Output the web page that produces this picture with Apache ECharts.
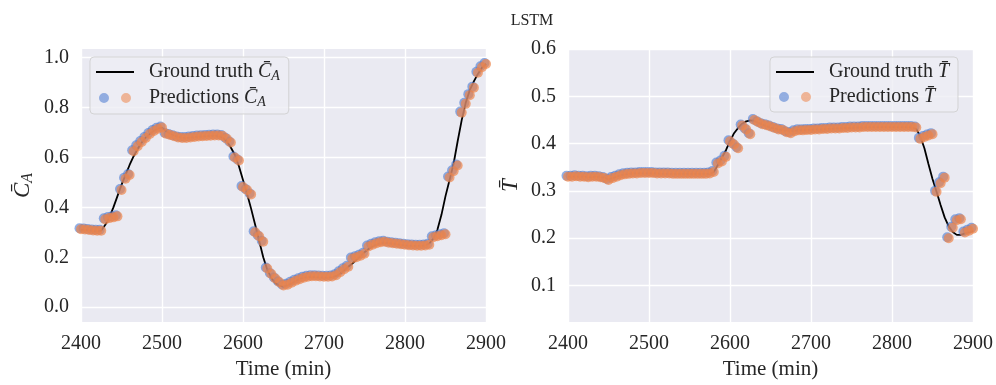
<!DOCTYPE html>
<html>
<head>
<meta charset="utf-8">
<script src="https://cdn.jsdelivr.net/npm/echarts@6/dist/echarts.min.js"></script>
<style>
  html, body { margin: 0; padding: 0; background: #fff; }
  #chart { width: 996px; height: 385px; }
</style>
</head>
<body>
<div id="chart"></div>
<script>
// time (min)
var times = [2400, 2405, 2410, 2415, 2420, 2425, 2430, 2435, 2440, 2445,
  2450, 2455, 2460, 2465, 2470, 2475, 2480, 2485, 2490, 2495,
  2500, 2505, 2510, 2515, 2520, 2525, 2530, 2535, 2540, 2545,
  2550, 2555, 2560, 2565, 2570, 2575, 2580, 2585, 2590, 2595,
  2600, 2605, 2610, 2615, 2620, 2625, 2630, 2635, 2640, 2645,
  2650, 2655, 2660, 2665, 2670, 2675, 2680, 2685, 2690, 2695,
  2700, 2705, 2710, 2715, 2720, 2725, 2730, 2735, 2740, 2745,
  2750, 2755, 2760, 2765, 2770, 2775, 2780, 2785, 2790, 2795,
  2800, 2805, 2810, 2815, 2820, 2825, 2830, 2835, 2840, 2845,
  2850, 2855, 2860, 2865, 2870, 2875, 2880, 2885, 2890, 2895, 2900];

// C_A ground truth / predictions
var caTrue = [0.310, 0.310, 0.308, 0.306, 0.305, 0.307, 0.330, 0.360, 0.400, 0.445,
  0.490, 0.530, 0.570, 0.605, 0.635, 0.660, 0.680, 0.695, 0.707, 0.716,
  0.720, 0.705, 0.695, 0.688, 0.683, 0.680, 0.679, 0.680, 0.682, 0.684,
  0.685, 0.686, 0.687, 0.688, 0.686, 0.680, 0.665, 0.640, 0.610, 0.565,
  0.510, 0.455, 0.395, 0.330, 0.265, 0.200, 0.150, 0.117, 0.097, 0.086,
  0.082, 0.088, 0.095, 0.105, 0.113, 0.118, 0.120, 0.121, 0.120, 0.119,
  0.118, 0.118, 0.120, 0.125, 0.135, 0.148, 0.162, 0.175, 0.190, 0.205,
  0.220, 0.233, 0.244, 0.252, 0.257, 0.258, 0.257, 0.255, 0.253, 0.250,
  0.248, 0.247, 0.246, 0.246, 0.246, 0.248, 0.255, 0.275, 0.310, 0.370,
  0.445, 0.510, 0.575, 0.665, 0.750, 0.820, 0.870, 0.905, 0.935, 0.960, 0.975];
var caPred = [0.312, 0.311, 0.309, 0.307, 0.306, 0.306, 0.352, 0.357, 0.360, 0.364,
  0.470, 0.515, 0.530, 0.625, 0.645, 0.662, 0.678, 0.694, 0.706, 0.715,
  0.720, 0.695, 0.690, 0.685, 0.680, 0.678, 0.678, 0.680, 0.682, 0.684,
  0.685, 0.686, 0.687, 0.688, 0.688, 0.686, 0.675, 0.660, 0.600, 0.588,
  0.482, 0.470, 0.452, 0.300, 0.284, 0.262, 0.155, 0.133, 0.115, 0.100,
  0.087, 0.090, 0.098, 0.106, 0.112, 0.118, 0.122, 0.124, 0.124, 0.123,
  0.122, 0.122, 0.123, 0.128, 0.140, 0.152, 0.162, 0.195, 0.200, 0.206,
  0.214, 0.243, 0.250, 0.256, 0.260, 0.262, 0.258, 0.256, 0.254, 0.252,
  0.250, 0.248, 0.247, 0.246, 0.246, 0.247, 0.250, 0.280, 0.284, 0.288,
  0.292, 0.520, 0.545, 0.568, 0.780, 0.815, 0.850, 0.880, 0.940, 0.962, 0.975];

// T ground truth / predictions
var tTrue = [0.330, 0.330, 0.330, 0.330, 0.330, 0.329, 0.329, 0.330, 0.329, 0.328,
  0.325, 0.327, 0.330, 0.333, 0.335, 0.336, 0.337, 0.337, 0.337, 0.337,
  0.337, 0.337, 0.337, 0.336, 0.336, 0.336, 0.336, 0.336, 0.336, 0.336,
  0.336, 0.336, 0.336, 0.336, 0.336, 0.336, 0.340, 0.355, 0.370, 0.386,
  0.405, 0.422, 0.433, 0.442, 0.447, 0.449, 0.448, 0.444, 0.440, 0.437,
  0.434, 0.432, 0.430, 0.428, 0.427, 0.427, 0.427, 0.428, 0.428, 0.429,
  0.429, 0.430, 0.430, 0.430, 0.431, 0.431, 0.432, 0.432, 0.433, 0.433,
  0.433, 0.434, 0.434, 0.434, 0.435, 0.435, 0.435, 0.435, 0.435, 0.435,
  0.435, 0.435, 0.435, 0.435, 0.435, 0.434, 0.431, 0.415, 0.390, 0.357,
  0.325, 0.298, 0.270, 0.244, 0.225, 0.213, 0.207, 0.207, 0.210, 0.213, 0.215];
var tPred = [0.330, 0.330, 0.331, 0.330, 0.330, 0.329, 0.330, 0.330, 0.329, 0.327,
  0.323, 0.327, 0.330, 0.333, 0.335, 0.336, 0.337, 0.337, 0.338, 0.338,
  0.338, 0.338, 0.337, 0.337, 0.337, 0.337, 0.336, 0.336, 0.336, 0.336,
  0.336, 0.336, 0.336, 0.336, 0.336, 0.337, 0.340, 0.358, 0.362, 0.372,
  0.405, 0.398, 0.390, 0.438, 0.430, 0.420, 0.450, 0.445, 0.441, 0.439,
  0.436, 0.433, 0.430, 0.429, 0.424, 0.422, 0.426, 0.428, 0.428, 0.429,
  0.429, 0.430, 0.430, 0.431, 0.431, 0.432, 0.432, 0.432, 0.433, 0.433,
  0.434, 0.434, 0.434, 0.435, 0.435, 0.435, 0.435, 0.435, 0.435, 0.435,
  0.435, 0.435, 0.435, 0.435, 0.435, 0.435, 0.434, 0.410, 0.414, 0.417,
  0.420, 0.298, 0.316, 0.328, 0.200, 0.222, 0.238, 0.240, 0.212, 0.216, 0.220];

var caTicks = [0.0, 0.2, 0.4, 0.6, 0.8, 1.0];
var tTicks = [0.1, 0.2, 0.3, 0.4, 0.5, 0.6];

var FONT = 'Liberation Serif';
var INK = '#262626';
var BLUE = '#4878d0', ORANGE = '#ee854a';

var chart = echarts.init(document.getElementById('chart'));

function pairs(ys) {
  return times.map(function (t, i) { return [t, ys[i]]; });
}

// legend icons: a plain black line, and a blue dot next to an orange dot
var plainLine = 'path://M0,0L38,0L38,1.8L0,1.8Z';
var twoDots = 'path://M0,0L0.01,0L0,0.01Z M38,14L37.99,14L38,13.99Z M3,7a5,5 0 1,0 10,0a5,5 0 1,0 -10,0Z M25,7a5,5 0 1,0 10,0a5,5 0 1,0 -10,0Z';
var dotsFill = new echarts.graphic.LinearGradient(0, 0, 1, 0, [
  { offset: 0, color: BLUE }, { offset: 0.5, color: BLUE },
  { offset: 0.5, color: ORANGE }, { offset: 1, color: ORANGE }
]);

var rich = {
  sp: { width: 10 },
  n: { fontFamily: FONT, fontSize: 20, color: INK },
  m: { fontFamily: FONT, fontSize: 20, fontStyle: 'italic', color: INK },
  s: { fontFamily: FONT, fontSize: 14, fontStyle: 'italic', color: INK, padding: [8, 0, 0, 0] },
  big: { fontFamily: FONT, fontSize: 23, fontStyle: 'italic', color: INK },
  bigs: { fontFamily: FONT, fontSize: 16, fontStyle: 'italic', color: INK, padding: [10, 0, 0, 0] }
};

var names = {
  gtC: '{sp| }{n|Ground truth }{m|C\u0304}{s|A}',
  prC: '{sp| }{n|Predictions }{m|C\u0304}{s|A}',
  gtT: '{sp| }{n|Ground truth }{m|T\u0304}',
  prT: '{sp| }{n|Predictions }{m|T\u0304}'
};

function legendFor(names0, pos) {
  return Object.assign({
    top: 57, orient: 'vertical', itemWidth: 38, itemHeight: 14, itemGap: 5,
    padding: [5, 9, 5, 6],
    backgroundColor: 'rgba(238,238,244,0.8)',
    borderColor: 'rgba(204,204,204,0.8)', borderWidth: 1, borderRadius: 4,
    data: [
      { name: names0[0], icon: plainLine, itemStyle: { color: '#000' } },
      { name: names0[1], icon: twoDots, itemStyle: { color: dotsFill, opacity: 0.55 } }
    ],
    formatter: function (n) { return names[n]; },
    textStyle: { rich: rich }
  }, pos);
}

function xAxisFor(gi) {
  return {
    gridIndex: gi, type: 'value', min: 2400, max: 2900, interval: 100,
    name: 'Time (min)', nameLocation: 'middle', nameGap: 36,
    nameTextStyle: { fontFamily: FONT, fontSize: 21, color: INK },
    axisLine: { show: false }, axisTick: { show: false },
    axisLabel: {
      fontFamily: FONT, fontSize: 20, color: INK, margin: 12,
      formatter: function (v) { return String(v); }
    },
    splitLine: { lineStyle: { color: '#fff', width: 1.4 } }
  };
}

function yAxisFor(gi, lo, hi, ticks, label, gap) {
  return {
    gridIndex: gi, type: 'value', min: lo, max: hi,
    name: label, nameLocation: 'middle', nameGap: gap, nameRotate: 90,
    nameTextStyle: { rich: rich },
    axisLine: { show: false },
    axisTick: { show: false, customValues: ticks },
    axisLabel: {
      fontFamily: FONT, fontSize: 20, color: INK, margin: 12, customValues: ticks,
      formatter: function (v) { return v.toFixed(1); }
    },
    splitLine: { customValues: ticks, lineStyle: { color: '#fff', width: 1.4 } }
  };
}

function seriesFor(gi, truth, pred, gtName, prName) {
  return [
    { name: gtName, type: 'line', xAxisIndex: gi, yAxisIndex: gi, data: pairs(truth),
      symbol: 'none', lineStyle: { color: '#000', width: 1.8 }, itemStyle: { color: '#000' }, z: 2 },
    { name: prName + 'b', type: 'scatter', xAxisIndex: gi, yAxisIndex: gi, data: pairs(pred),
      symbolSize: 10, symbolOffset: [-1.5, -1], itemStyle: { color: BLUE, opacity: 0.6 }, z: 3 },
    { name: prName, type: 'scatter', xAxisIndex: gi, yAxisIndex: gi, data: pairs(pred),
      symbolSize: 10, itemStyle: { color: ORANGE, opacity: 0.7 }, z: 4 }
  ];
}

var option = {
  animation: false,
  title: {
    text: 'LSTM', left: 527, top: 8, textAlign: 'center',
    textStyle: { fontFamily: FONT, fontSize: 16, fontWeight: 'normal', color: INK }
  },
  grid: [
    { left: 81, width: 405, top: 49, height: 278, show: true, backgroundColor: '#eaeaf2', borderWidth: 0 },
    { left: 568, width: 405, top: 49, height: 278, show: true, backgroundColor: '#eaeaf2', borderWidth: 0 }
  ],
  legend: [
    legendFor(['gtC', 'prC'], { left: 90 }),
    legendFor(['gtT', 'prT'], { left: 770 })
  ],
  xAxis: [xAxisFor(0), xAxisFor(1)],
  yAxis: [
    yAxisFor(0, -0.06, 1.035, caTicks, '{big|C\u0304}{bigs|A}', 45),
    yAxisFor(1, 0.0226, 0.6, tTicks, '{big|T\u0304}', 46)
  ],
  series: seriesFor(0, caTrue, caPred, 'gtC', 'prC').concat(seriesFor(1, tTrue, tPred, 'gtT', 'prT'))
};

chart.setOption(option);
</script>
</body>
</html>
